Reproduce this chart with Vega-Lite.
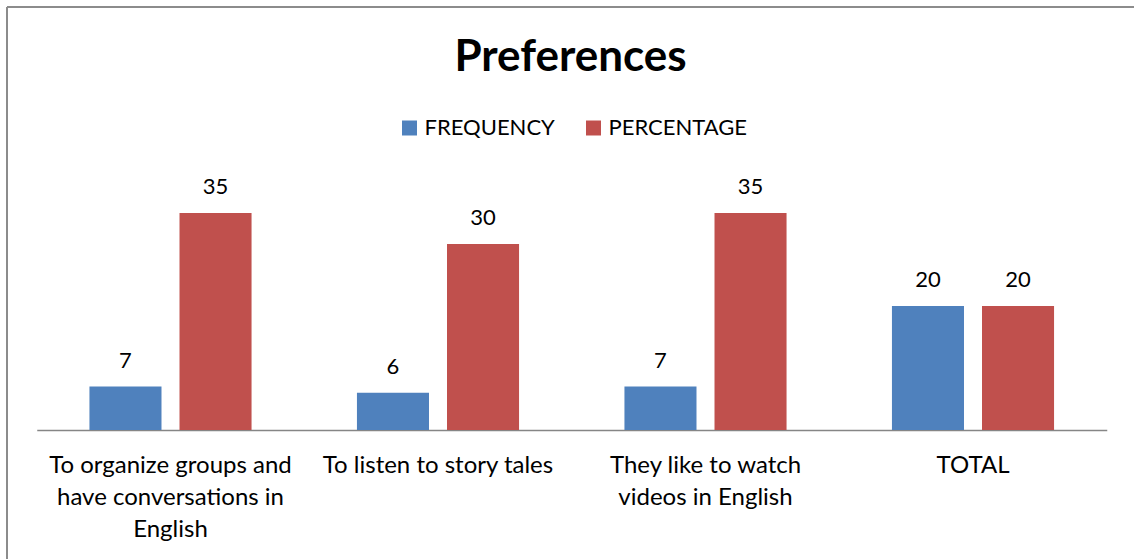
{
  "$schema": "https://vega.github.io/schema/vega-lite/v6.json",
  "width": 1127,
  "height": 552,
  "autosize": {"type": "none"},
  "padding": {"left": 7, "top": 7, "right": 0, "bottom": 0},
  "background": "white",
  "config": {
    "font": "Lato",
    "view": {"stroke": "#8c8c8c", "strokeWidth": 2, "strokeDash": [1127, 1679, 552, 0]}
  },
  "title": {
    "text": "Preferences",
    "fontSize": 44,
    "fontWeight": "bold",
    "font": "Lato",
    "color": "#000000",
    "anchor": "middle",
    "frame": "group",
    "baseline": "alphabetic",
    "offset": -64,
    "dy": 44
  },
  "data": {
    "values": [
      {"category": "To organize groups and have conversations in English", "series": "FREQUENCY", "value": 7},
      {"category": "To organize groups and have conversations in English", "series": "PERCENTAGE", "value": 35},
      {"category": "To listen to story tales", "series": "FREQUENCY", "value": 6},
      {"category": "To listen to story tales", "series": "PERCENTAGE", "value": 30},
      {"category": "They like to watch videos in English", "series": "FREQUENCY", "value": 7},
      {"category": "They like to watch videos in English", "series": "PERCENTAGE", "value": 35},
      {"category": "TOTAL", "series": "FREQUENCY", "value": 20},
      {"category": "TOTAL", "series": "PERCENTAGE", "value": 20}
    ]
  },
  "encoding": {
    "x": {
      "field": "category",
      "type": "nominal",
      "sort": null,
      "scale": {"range": [29.75, 1099.75], "paddingInner": 0.394, "paddingOuter": 0.197},
      "axis": {
        "orient": "bottom",
        "offset": -129,
        "title": null,
        "ticks": false,
        "tickSize": 0,
        "labelAngle": 0,
        "labelFontSize": 24,
        "labelFont": "Lato",
        "labelColor": "#000000",
        "labelPadding": 23,
        "labelLineHeight": 32,
        "labelLimit": 400,
        "labelBaseline": "top",
        "domainColor": "#868686",
        "domainWidth": 1.5,
        "grid": false,
        "labelExpr": "datum.value == 'To organize groups and have conversations in English' ? ['To organize groups and', 'have conversations in', 'English'] : datum.value == 'They like to watch videos in English' ? ['They like to watch', 'videos in English'] : datum.value"
      }
    },
    "xOffset": {
      "field": "series",
      "type": "nominal",
      "sort": ["FREQUENCY", "PERCENTAGE"],
      "scale": {"paddingInner": 0.2, "paddingOuter": 0}
    },
    "y": {
      "field": "value",
      "type": "quantitative",
      "scale": {"domain": [0, 40], "range": [423, 175], "nice": false, "zero": true},
      "axis": null
    }
  },
  "layer": [
    {
      "mark": {"type": "bar"},
      "encoding": {
        "color": {
          "field": "series",
          "type": "nominal",
          "sort": ["FREQUENCY", "PERCENTAGE"],
          "scale": {"domain": ["FREQUENCY", "PERCENTAGE"], "range": ["#4F81BD", "#C0504D"]},
          "legend": {
            "orient": "none",
            "legendX": 391.5,
            "legendY": 110,
            "direction": "horizontal",
            "title": null,
            "symbolType": "square",
            "symbolSize": 225,
            "symbolStrokeWidth": 0,
            "labelFontSize": 22,
            "labelFont": "Lato",
            "labelColor": "#000000",
            "labelOffset": 4,
            "columnPadding": 27,
            "padding": 0,
            "labelLimit": 300
          }
        }
      }
    },
    {
      "mark": {"type": "text", "baseline": "alphabetic", "dy": -19, "fontSize": 22, "font": "Lato", "color": "#000000"},
      "encoding": {
        "text": {"field": "value", "type": "quantitative"}
      }
    }
  ]
}
